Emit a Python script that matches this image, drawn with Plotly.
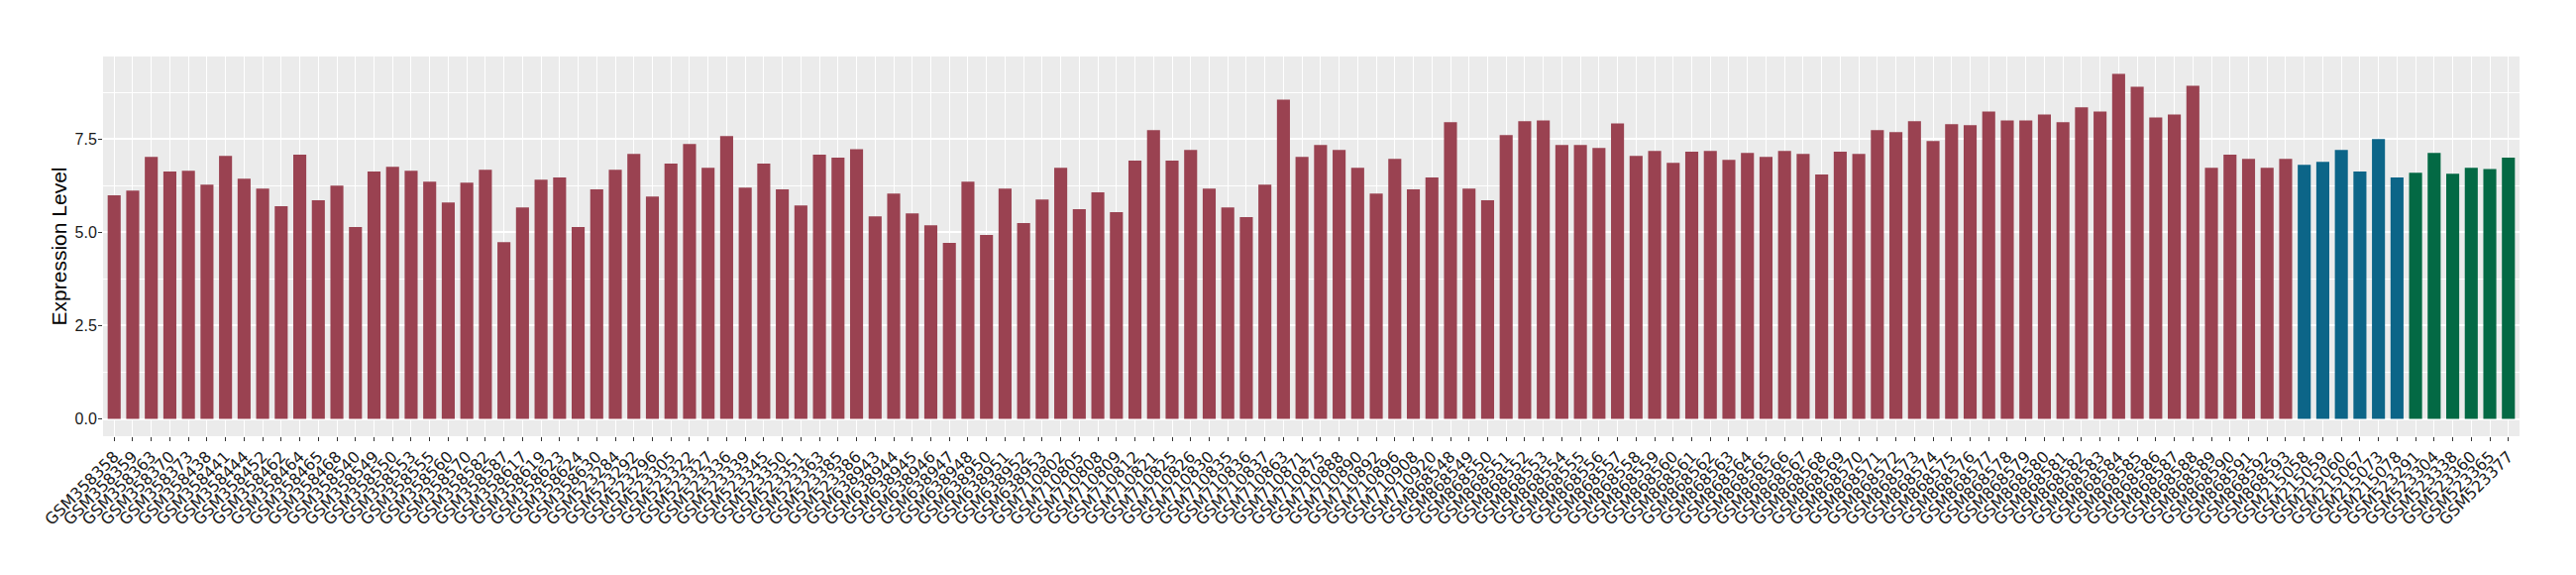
import plotly.graph_objects as go

# Amostras do grupo 1 (vermelho escuro)
group1_samples = [
    "GSM358358", "GSM358359", "GSM358363", "GSM358370", "GSM358373", "GSM358438",
    "GSM358441", "GSM358444", "GSM358452", "GSM358462", "GSM358464", "GSM358465",
    "GSM358468", "GSM358540", "GSM358549", "GSM358550", "GSM358553", "GSM358555",
    "GSM358560", "GSM358570", "GSM358582", "GSM358587", "GSM358617", "GSM358619",
    "GSM358623", "GSM358624", "GSM358630",
    "GSM523284", "GSM523292", "GSM523296", "GSM523305", "GSM523322", "GSM523327",
    "GSM523336", "GSM523339", "GSM523345", "GSM523350", "GSM523351", "GSM523363",
    "GSM523385", "GSM523386",
    "GSM638943", "GSM638944", "GSM638945", "GSM638946", "GSM638947", "GSM638948",
    "GSM638950", "GSM638951", "GSM638952", "GSM638953",
    "GSM710802", "GSM710805", "GSM710808", "GSM710809", "GSM710812", "GSM710821",
    "GSM710825", "GSM710826", "GSM710830", "GSM710835", "GSM710836", "GSM710837",
    "GSM710863", "GSM710871", "GSM710875", "GSM710888", "GSM710890", "GSM710892",
    "GSM710896", "GSM710908", "GSM710920",
] + ["GSM%d" % n for n in range(868548, 868594)]

group1_values = [
    5.99, 6.12, 7.02, 6.63, 6.65, 6.28, 7.05, 6.44, 6.17, 5.70,
    7.08, 5.86, 6.25, 5.14, 6.63, 6.76, 6.65, 6.36, 5.80, 6.33,
    6.68, 4.74, 5.67, 6.41, 6.47, 5.14, 6.15, 6.68, 7.10, 5.96,
    6.84, 7.37, 6.73, 7.58, 6.20, 6.84, 6.15, 5.72, 7.08, 7.00,
    7.23, 5.43, 6.04, 5.51, 5.19, 4.72, 6.36, 4.93, 6.17, 5.25,
    5.88, 6.73, 5.62, 6.07, 5.54, 6.92, 7.74, 6.92, 7.21, 6.17,
    5.67, 5.41, 6.28, 8.56, 7.02, 7.34, 7.21, 6.73, 6.04, 6.97,
    6.15, 6.47, 7.95, 6.17, 5.86, 7.61, 7.98, 8.00, 7.34, 7.34,
    7.26, 7.92, 7.05, 7.18, 6.86, 7.16, 7.18, 6.94, 7.13, 7.02,
    7.18, 7.10, 6.55, 7.16, 7.10, 7.74, 7.69, 7.98, 7.45, 7.90,
    7.87, 8.24, 8.00, 8.00, 8.16, 7.95, 8.35, 8.24, 9.25, 8.90,
    8.08, 8.16, 8.93, 6.73, 7.08, 6.97, 6.73, 6.97,
]

# Grupo 2 (azul)
group2_samples = ["GSM215058", "GSM215059", "GSM215060", "GSM215067", "GSM215073", "GSM215078"]
group2_values = [6.81, 6.89, 7.21, 6.63, 7.50, 6.47]

# Grupo 3 (verde)
group3_samples = ["GSM523291", "GSM523304", "GSM523338", "GSM523360", "GSM523365", "GSM523377"]
group3_values = [6.60, 7.13, 6.57, 6.73, 6.70, 7.00]

colors = {
    'g1': '#9A4251',
    'g2': '#0C6588',
    'g3': '#036944',
}

samples = group1_samples + group2_samples + group3_samples
values = group1_values + group2_values + group3_values
bar_colors = ([colors['g1']] * len(group1_samples)
              + [colors['g2']] * len(group2_samples)
              + [colors['g3']] * len(group3_samples))

fig = go.Figure()
fig.add_trace(go.Bar(
    x=samples,
    y=values,
    marker_color=bar_colors,
    marker_line_width=0,
    width=0.7,
    showlegend=False,
))

n = len(samples)
ymax = max(values)

# a página tem 8px de margem no body
fig.update_layout(
    width=2600,
    height=580,
    margin=dict(l=96, r=65, t=49, b=148, autoexpand=False),
    paper_bgcolor='white',
    plot_bgcolor='#EBEBEB',
    font=dict(family='Liberation Sans, Arial, sans-serif', color='#1A1A1A'),
    bargap=0.3,
)

fig.update_xaxes(
    type='category',
    automargin=False,
    range=[-0.6, n - 1 + 0.6],
    tickmode='linear',
    dtick=1,
    tickangle=-45,
    tickfont=dict(family='DejaVu Sans', size=16, color='#1A1A1A'),
    ticks='outside',
    ticklen=4,
    tickwidth=1,
    tickcolor='#333333',
    showgrid=True,
    gridcolor='white',
    gridwidth=1,
    zeroline=False,
    showline=False,
)

fig.update_yaxes(
    automargin=False,
    range=[-0.05 * ymax, 1.05 * ymax],
    tickmode='array',
    tickvals=[0, 2.5, 5, 7.5],
    ticktext=['0.0', '2.5', '5.0', '7.5'],
    tickfont=dict(size=16, color='#1A1A1A'),
    ticks='outside',
    ticklen=4,
    tickwidth=1,
    tickcolor='#333333',
    ticklabelstandoff=-2,
    showgrid=True,
    gridcolor='white',
    gridwidth=2,
    minor=dict(tickmode='array', tickvals=[1.25, 3.75, 6.25, 8.75],
               showgrid=True, gridcolor='white', gridwidth=1, ticks=''),
    zeroline=False,
    showline=False,
    title=dict(text='Expression Level', font=dict(size=21, color='#000000'), standoff=2),
)

fig.write_html("out.html")
